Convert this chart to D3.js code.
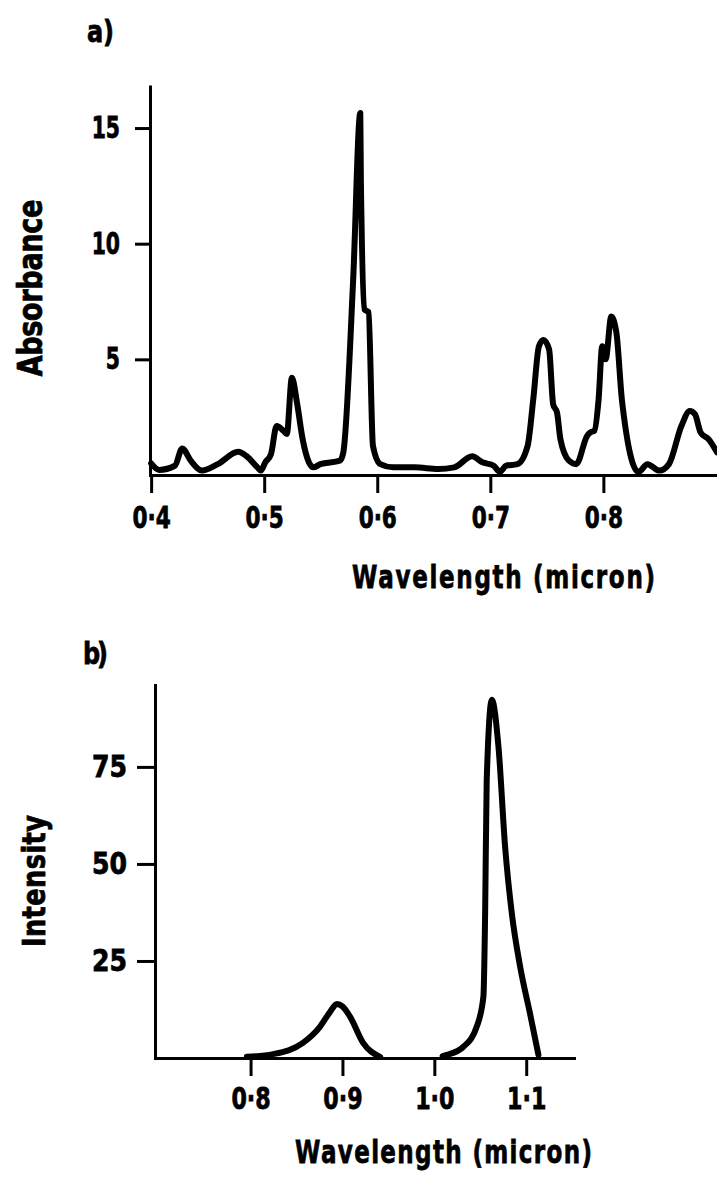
<!DOCTYPE html>
<html>
<head>
<meta charset="utf-8">
<script src="https://cdn.jsdelivr.net/npm/d3@7"></script>
<style>
  html, body { margin: 0; padding: 0; background: #fff; }
  svg { display: block; }
  text { font-family: "DejaVu Sans", "Liberation Sans", sans-serif; font-weight: bold; fill: #000;
         stroke: #000; stroke-width: 0.8px; }
</style>
</head>
<body>
<svg id="fig" width="717" height="1183"></svg>
<script>
// ---- (a) absorption spectrum ----
const absWavelength = [
  0.400, 0.407, 0.421, 0.4275, 0.435, 0.445, 0.459, 0.477, 0.484, 0.494,
  0.497, 0.501, 0.506, 0.511, 0.517, 0.520, 0.5245, 0.529, 0.534, 0.5395,
  0.5436, 0.5496, 0.567, 0.570, 0.5787, 0.585, 0.5855, 0.5888, 0.5923, 0.5962,
  0.6027, 0.614, 0.633, 0.654, 0.668, 0.684, 0.693, 0.703, 0.7085, 0.714,
  0.724, 0.733, 0.738, 0.743, 0.747, 0.752, 0.7556, 0.759, 0.762, 0.7695,
  0.776, 0.7856, 0.7885, 0.792, 0.7958, 0.799, 0.8020, 0.807, 0.8115, 0.8165,
  0.831, 0.839, 0.8495, 0.858, 0.869, 0.8765, 0.881, 0.886, 0.893, 0.9005
];
const absorbance = [
  0.50, 0.22, 0.40, 1.15, 0.62, 0.19, 0.47, 1.00, 0.83, 0.33,
  0.19, 0.55, 0.90, 2.12, 1.91, 1.77, 4.20, 3.13, 1.55, 0.55,
  0.33, 0.47, 0.62, 0.98, 8.45, 15.65, 12.8, 7.15, 7.04, 1.26,
  0.47, 0.33, 0.33, 0.26, 0.33, 0.81, 0.55, 0.40, 0.14, 0.40,
  0.47, 1.26, 3.28, 5.57, 5.84, 5.43, 3.05, 2.70, 1.55, 0.62,
  0.47, 1.69, 1.84, 1.91, 3.28, 5.57, 5.00, 6.85, 6.16, 3.20,
  0.13, 0.47, 0.19, 0.47, 2.12, 2.77, 2.63, 1.84, 1.55, 0.98
];
const absXTicks = [0.4, 0.5, 0.6, 0.7, 0.8];
const absYTicks = [5, 10, 15];

// ---- (b) emission spectrum: two bands ----
const emiWavelengthLow = [0.796, 0.8246, 0.857, 0.8757, 0.8866, 0.894, 0.900, 0.9084, 0.9225, 0.941];
const emiIntensityLow  = [0.3, 1.0, 3.9, 8.1, 11.9, 13.9, 13.3, 10.6, 3.9, 0.3];
const emiWavelengthHigh = [1.009, 1.0136, 1.0317, 1.0462, 1.0534, 1.0553, 1.057, 1.0626, 1.0698, 1.077, 1.0843, 1.0934, 1.104, 1.1133];
const emiIntensityHigh  = [0.5, 0.8, 2.9, 8.1, 15.8, 37.4, 71.6, 92.3, 80.2, 54.5, 37.3, 23.5, 11.6, 0.8];
const emiXTicks = [0.8, 0.9, 1.0, 1.1];
const emiYTicks = [25, 50, 75];

const svg = d3.select("#fig");
const fmt = v => d3.format(".1f")(v).replace(".", "\u00b7");

// narrow the lettering: squeeze glyphs horizontally, keep anchor position
function condense(sel, k) {
  sel.each(function () {
    const t = d3.select(this);
    const x = +t.attr("x") || 0;
    t.attr("x", x / k).attr("transform", `scale(${k},1)`);
  });
}

function styleAxis(g, width) {
  g.attr("font-size", null).attr("font-family", null);
  g.select(".domain").attr("stroke-width", width).attr("stroke-linecap", "square");
  g.selectAll(".tick line").attr("stroke-width", width);
  g.selectAll(".tick text").style("font-size", "30px").attr("stroke", "#000");
}

// placed title with fixed length, rotated if needed
function title(x, y, str, size, len, k, rot) {
  svg.append("text")
    .attr("transform", `translate(${x},${y}) rotate(${rot || 0}) scale(${k},1)`)
    .attr("text-anchor", rot ? "middle" : "start")
    .style("font-size", size + "px")
    .attr("textLength", len / k)
    .attr("lengthAdjust", "spacing")
    .text(str);
}

const line = d3.line().curve(d3.curveMonotoneX);

// ================= panel (a) =================
const xA = d3.scaleLinear().domain([0.399, 0.9005]).range([150, 717]);
const yA = d3.scaleLinear().domain([0, 16.8]).range([475, 86.4]);

const gxA = svg.append("g").attr("transform", `translate(0,${yA(0)})`)
  .call(d3.axisBottom(xA).tickValues(absXTicks).tickFormat(fmt).tickSize(18).tickSizeOuter(0).tickPadding(14));
styleAxis(gxA, 3);
condense(gxA.selectAll(".tick text"), 0.72);

const gyA = svg.append("g").attr("transform", `translate(${xA(0.399)},0)`)
  .call(d3.axisLeft(yA).tickValues(absYTicks).tickFormat(d3.format("d")).tickSize(15).tickSizeOuter(0).tickPadding(15));
styleAxis(gyA, 3);
condense(gyA.selectAll(".tick text"), 0.68);

svg.append("path")
  .datum(absWavelength.map((w, i) => [xA(w), yA(absorbance[i])]))
  .attr("d", line)
  .attr("fill", "none").attr("stroke", "#000")
  .attr("stroke-width", 6).attr("stroke-linejoin", "round").attr("stroke-linecap", "round");

title(87, 42, "a)", 30, 27, 0.8, 0);
title(42, 288, "Absorbance", 34, 177, 0.8, -90);
title(352, 588, "Wavelength (micron)", 32, 303, 0.72, 0);

// ================= panel (b) =================
const xB = d3.scaleLinear().domain([0.696, 1.152]).range([155, 574]);
const yB = d3.scaleLinear().domain([0, 96.1]).range([1058, 685]);

const gxB = svg.append("g").attr("transform", `translate(0,${yB(0)})`)
  .call(d3.axisBottom(xB).tickValues(emiXTicks).tickFormat(fmt).tickSize(18).tickSizeOuter(0).tickPadding(12));
styleAxis(gxB, 3);
condense(gxB.selectAll(".tick text"), 0.74);

const gyB = svg.append("g").attr("transform", `translate(${xB(0.696)},0)`)
  .call(d3.axisLeft(yB).tickValues(emiYTicks).tickFormat(d3.format("d")).tickSize(18).tickSizeOuter(0).tickPadding(10));
styleAxis(gyB, 3);
condense(gyB.selectAll(".tick text"), 0.84);

[[emiWavelengthLow, emiIntensityLow], [emiWavelengthHigh, emiIntensityHigh]].forEach(([ws, vs]) => {
  svg.append("path")
    .datum(ws.map((w, i) => [xB(w), yB(vs[i])]))
    .attr("d", line)
    .attr("fill", "none").attr("stroke", "#000")
    .attr("stroke-width", 6).attr("stroke-linejoin", "round").attr("stroke-linecap", "round");
});

title(83, 664, "b)", 30, 25, 0.8, 0);
title(45, 881, "Intensity", 32, 132, 0.8, -90);
title(295, 1163, "Wavelength (micron)", 32, 297, 0.72, 0);
</script>
</body>
</html>
